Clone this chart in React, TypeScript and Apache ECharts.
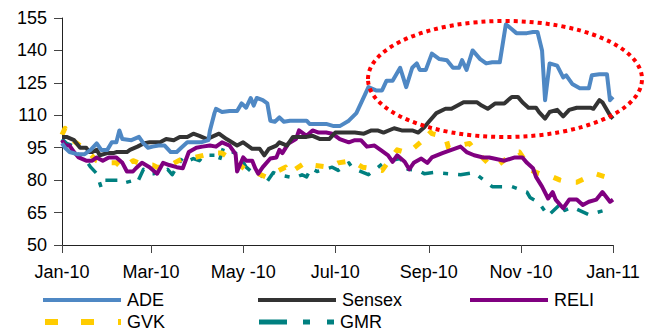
import React, { useEffect, useRef } from "react";
import * as echarts from "echarts";

// x = days since 1 Jan 2010
const tickDays = [0, 59, 120, 181, 243, 304, 365];
const tickLabels = ["Jan-10", "Mar-10", "May -10", "Jul-10", "Sep-10", "Nov -10", "Jan-11"];
const yTicks = [50, 65, 80, 95, 110, 125, 140, 155];

const adeDays = [0, 2, 5, 10, 15, 19, 23, 26, 30, 33, 36, 38, 40, 46, 51, 54, 57, 60, 64, 68, 72, 76, 79, 83, 92, 97, 98, 101, 102, 106, 111, 116, 119, 122, 125, 127, 129, 133, 136, 138, 141, 144, 147, 151, 162, 164, 175, 180, 184, 190, 195, 199, 203, 208, 212, 215, 219, 224, 226, 228, 232, 235, 237, 241, 245, 250, 255, 259, 263, 265, 268, 272, 277, 281, 285, 290, 294, 296, 301, 303, 308, 312, 315, 318, 320, 323, 328, 332, 334, 338, 343, 349, 351, 356, 361, 363, 365];
const adeVals = [97, 95, 93, 92, 92, 94, 97, 94, 94, 97.5, 97.5, 103, 99, 98.5, 100, 97, 95, 95.5, 96, 96, 93, 93, 95, 97.5, 97.5, 98.5, 103, 111, 113, 111.5, 112, 112, 115.5, 113.5, 118, 114.5, 118, 117, 115.5, 107.5, 107, 109, 107, 107.5, 107.5, 106, 106, 105, 105, 107.5, 111, 117, 123, 121.5, 121.5, 126, 126, 132, 127.5, 123, 132, 134, 131, 131, 138.5, 136, 135.5, 132, 132, 135.5, 131, 140, 136, 134, 134.5, 134.5, 152, 151, 148, 148, 148, 148.5, 148.5, 140, 117, 134, 133, 127.5, 128.5, 124.5, 122.5, 122.5, 128.5, 129, 129, 117, 118.5];

const sensexDays = [0, 3, 8, 12, 16, 18, 20, 23, 25, 30, 34, 36, 40, 43, 45, 50, 54, 58, 65, 69, 74, 78, 83, 87, 91, 96, 104, 109, 116, 120, 126, 131, 134, 137, 142, 144, 149, 153, 162, 166, 171, 177, 181, 194, 200, 205, 209, 213, 220, 225, 232, 236, 240, 243, 248, 254, 258, 262, 266, 275, 278, 282, 287, 293, 298, 302, 305, 309, 314, 316, 320, 323, 328, 332, 336, 341, 350, 352, 356, 358, 363, 365];
const sensexVals = [100, 100, 98.5, 95, 95, 93, 93, 94, 91.5, 92.5, 92.5, 93, 93, 93, 94, 95.5, 97, 97.5, 97.5, 99, 98.5, 100, 100, 101.5, 100.5, 99, 101.5, 99, 96, 97.5, 94.5, 94.5, 91.5, 94.5, 96, 97.5, 96, 100, 100, 100.5, 99, 99, 102, 102, 101.5, 103, 103, 102, 104, 103, 103, 102, 104.5, 107, 111, 113, 113, 114.5, 116, 116, 114.5, 113, 115.5, 115.5, 118.5, 118.5, 116, 113.5, 113.5, 111.5, 108.5, 111.5, 112.5, 109.5, 112.5, 113.5, 113.5, 113, 117, 116, 110, 108.5];

const reliDays = [0, 2, 5, 8, 11, 16, 20, 23, 27, 31, 36, 40, 43, 47, 49, 53, 58, 63, 67, 71, 76, 80, 84, 89, 93, 98, 102, 106, 111, 115, 116, 120, 122, 126, 128, 130, 133, 138, 142, 144, 146, 150, 155, 157, 162, 166, 170, 175, 179, 184, 190, 194, 198, 202, 207, 211, 216, 219, 222, 227, 230, 233, 238, 242, 245, 252, 258, 264, 268, 273, 279, 283, 293, 300, 305, 308, 312, 314, 318, 322, 325, 327, 332, 336, 341, 345, 349, 354, 358, 363, 365];
const reliVals = [98.5, 96, 96, 93, 90.5, 89, 89, 90.5, 89, 90.5, 90.5, 88, 84, 84, 85.5, 88, 86, 83, 88, 87, 86, 85.5, 93, 95, 95.5, 96, 95.5, 97.5, 96, 92, 84, 90.5, 89, 89, 85.5, 83, 86, 90, 90.5, 94, 92.5, 97, 99, 103, 100.5, 103, 102, 102, 101.5, 99, 97.5, 98.5, 98.5, 95.5, 96, 94, 91.5, 88.5, 91.5, 88.5, 85, 88, 90, 88, 90.5, 92.5, 94, 95.5, 93, 91.5, 90.5, 90.5, 89, 90.5, 90.5, 88, 85.5, 81.5, 77, 71.5, 74.5, 71, 67, 71, 71, 68.5, 70, 71, 74.5, 70, 71];

const gvkDays = [0, 2, 4, 8, 12, 18, 23, 27, 36, 40, 47, 54, 60, 63, 69, 80, 85, 100, 106, 118, 122, 130, 135, 148, 150, 162, 166, 177, 183, 192, 199, 212, 222, 229, 240, 243, 245, 254, 256, 270, 272, 282, 287, 300, 303, 311, 316, 325, 330, 336, 341, 353, 360];
const gvkVals = [101, 104, 100, 98, 96, 92.5, 89, 88, 88, 85.5, 89, 87, 87, 86, 86, 90, 90, 92.5, 92.5, 87, 84.5, 83, 81.5, 86, 83, 88.5, 87, 86, 88, 89, 86, 84.5, 94, 92.5, 99, 103, 101.5, 100, 95, 97, 95, 88, 86, 93, 93, 84.5, 83, 81.5, 80, 79, 79, 83, 81.5];

const gmrDays = [0, 3, 7, 10, 17, 19, 23, 26, 28, 37, 40, 48, 50, 54, 58, 61, 70, 73, 80, 84, 87, 91, 94, 96, 101, 104, 107, 113, 115, 118, 122, 127, 130, 133, 135, 140, 143, 154, 159, 162, 165, 169, 179, 183, 190, 192, 196, 203, 214, 224, 229, 236, 240, 246, 256, 264, 273, 285, 298, 308, 310, 316, 322, 331, 333, 338, 349, 359, 362];
const gmrVals = [99, 97, 96, 92.5, 88, 86, 83, 76.5, 80, 80, 78.5, 80, 79, 85, 83, 83, 85, 82.5, 90.5, 89, 90, 89, 91.5, 91.5, 91.5, 88.5, 95, 93, 92.5, 90.5, 86, 83, 83, 81.5, 78.5, 83.5, 82.5, 81, 82.5, 81.5, 85.5, 84, 86, 84.5, 88, 86, 84.5, 82.5, 88.5, 90, 85, 84.5, 83, 83.5, 83, 82.5, 83.5, 77, 77, 74.5, 72, 69.5, 63.5, 69.5, 66, 67.5, 64, 66, 64];

const FONT = "'Liberation Sans', Arial, sans-serif";

const zip = (d: number[], v: number[]) => d.map((x, i) => [x, v[i]]);

export default function App() {
  const ref = useRef<HTMLDivElement>(null);
  useEffect(() => {
    if (!ref.current) return;
    const chart = echarts.init(ref.current, null, { renderer: "svg" });
    const mk = (name: string, d: number[], v: number[], color: string, width: number, type: any) => ({
      name,
      type: "line",
      data: zip(d, v),
      symbol: "none",
      smooth: false,
      lineStyle: { color, width, type, cap: "butt", join: "round" },
      itemStyle: { color },
      z: 2,
    });
    const legendBase = {
      itemGap: 0,
      padding: 0,
      selectedMode: false,
      textStyle: { fontSize: 18, color: "#000", fontFamily: FONT, padding: [0, 0, 0, 1] },
    };
    const solidIcon = "path://M0,0h78v4h-78z";
    chart.setOption({
      animation: false,
      grid: { left: 62, right: 36, top: 18, bottom: 90 },
      xAxis: {
        type: "value",
        min: 0,
        max: 365,
        axisLine: { lineStyle: { color: "#222", width: 1 } },
        axisTick: { customValues: tickDays, length: 8, lineStyle: { color: "#444" } },
        axisLabel: {
          customValues: tickDays,
          margin: 18,
          fontSize: 18,
          color: "#000",
          fontFamily: FONT,
          formatter: (val: number) => tickLabels[tickDays.indexOf(Math.round(val))] ?? "",
        },
        splitLine: { show: false },
      },
      yAxis: {
        type: "value",
        min: 50,
        max: 155,
        axisLine: { show: true, lineStyle: { color: "#222", width: 1 } },
        axisTick: { show: true, customValues: yTicks, length: 8, lineStyle: { color: "#444" } },
        axisLabel: { customValues: yTicks, margin: 15, fontSize: 18, color: "#000", fontFamily: FONT },
        splitLine: { show: false },
      },
      legend: [
        { ...legendBase, data: [{ name: "ADE", icon: solidIcon }], itemWidth: 78, itemHeight: 4, left: 43, top: 291 },
        { ...legendBase, data: [{ name: "Sensex", icon: solidIcon }], itemWidth: 78, itemHeight: 4, left: 258, top: 291 },
        { ...legendBase, data: [{ name: "RELI", icon: solidIcon }], itemWidth: 78, itemHeight: 4, left: 470, top: 291 },
        {
          ...legendBase,
          data: [{ name: "GVK", icon: "path://M0,0h13v6h-13zM36,0h13v6h-13zM73,0h3v6h-3z" }],
          itemWidth: 76,
          itemHeight: 6,
          left: 45,
          top: 313,
        },
        {
          ...legendBase,
          data: [{ name: "GMR", icon: "path://M0,0h28v5h-28zM44,0h7v5h-7zM68,0h7v5h-7z" }],
          itemWidth: 75,
          itemHeight: 5,
          left: 259,
          top: 313,
        },
      ],
      series: [
        mk("GMR", gmrDays, gmrVals, "#008080", 3.5, [12, 10, 5, 10]),
        mk("GVK", gvkDays, gvkVals, "#FFCC00", 5, [8, 15]),
        mk("RELI", reliDays, reliVals, "#800080", 4, "solid"),
        mk("Sensex", sensexDays, sensexVals, "#333333", 4, "solid"),
        mk("ADE", adeDays, adeVals, "#4F88C4", 4, "solid"),
      ],
      graphic: [
        {
          type: "ellipse",
          shape: { cx: 505, cy: 79, rx: 137, ry: 58 },
          style: { fill: "none", stroke: "#FF0000", lineWidth: 4, lineDash: [4, 4] },
          z: 10,
        },
      ],
    });
    return () => chart.dispose();
  }, []);
  return <div ref={ref} style={{ position: "absolute", left: 0, top: 0, width: 649, height: 335 }} />;
}
